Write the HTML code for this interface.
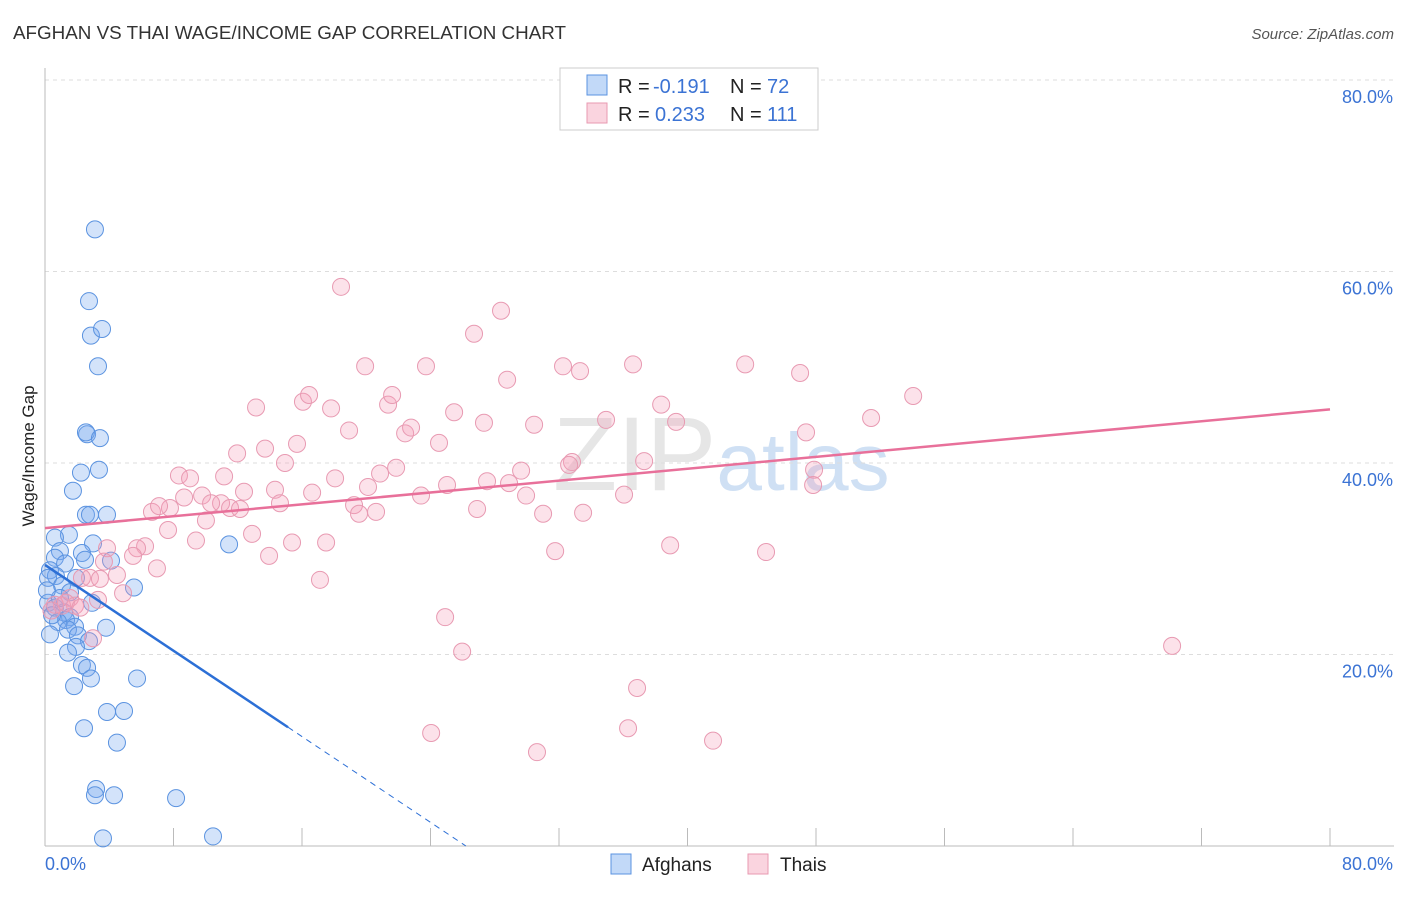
<!DOCTYPE html>
<html><head><meta charset="utf-8"><style>
body{margin:0;background:#fff;font-family:"Liberation Sans",sans-serif;}
svg text{font-family:"Liberation Sans",sans-serif;}
</style></head><body>
<svg id="chart" width="1406" height="892" viewBox="0 0 1406 892" xmlns="http://www.w3.org/2000/svg">
<text x="13" y="39" font-size="18" fill="#333" textLength="553" lengthAdjust="spacingAndGlyphs">AFGHAN VS THAI WAGE/INCOME GAP CORRELATION CHART</text>
<text x="1394" y="39" font-size="15" fill="#555" text-anchor="end" font-style="italic">Source: ZipAtlas.com</text>
<text x="553" y="490" font-size="105" fill="#e6e6e6" font-family="Liberation Serif">ZIP<tspan fill="#cfe0f4" font-family="Liberation Sans" font-size="82">atlas</tspan></text>
<g id="grid"></g>
<line x1="45" y1="68" x2="45" y2="846" stroke="#bbb"/>
<line x1="45" y1="846" x2="1394" y2="846" stroke="#bbb"/>
<text transform="translate(34,456) rotate(-90)" font-size="17" fill="#222" text-anchor="middle">Wage/Income Gap</text>
<text x="45" y="870" font-size="18" fill="#3b73d4">0.0%</text>
<text x="1393" y="870" font-size="18" fill="#3b73d4" text-anchor="end">80.0%</text>
<g id="points"></g>
<g id="lines"></g>
<g>
<rect x="560" y="68" width="258" height="62" fill="#fff" stroke="#ccc"/>
<rect x="587" y="75" width="20" height="20" fill="rgba(120,170,240,0.45)" stroke="#5b93e0"/>
<text x="618" y="93" font-size="20" fill="#222">R =</text>
<text x="653" y="93" font-size="20" fill="#3b73d4">-0.191</text>
<text x="730" y="93" font-size="20" fill="#222">N =</text>
<text x="767" y="93" font-size="20" fill="#3b73d4">72</text>
<rect x="587" y="103" width="20" height="20" fill="rgba(245,160,185,0.45)" stroke="#e89ab2"/>
<text x="618" y="121" font-size="20" fill="#222">R =</text>
<text x="655" y="121" font-size="20" fill="#3b73d4">0.233</text>
<text x="730" y="121" font-size="20" fill="#222">N =</text>
<text x="767" y="121" font-size="20" fill="#3b73d4">111</text>
</g>
<g>
<rect x="611" y="854" width="20" height="20" fill="rgba(120,170,240,0.45)" stroke="#5b93e0"/>
<text x="642" y="871" font-size="19" fill="#222">Afghans</text>
<rect x="748" y="854" width="20" height="20" fill="rgba(245,160,185,0.45)" stroke="#e89ab2"/>
<text x="780" y="871" font-size="19" fill="#222">Thais</text>
</g>
</svg>
<script>
const yTicks=[20,40,60,80];
const yTickLabels=["20.0%","40.0%","60.0%","80.0%"];
const xTicks=[0,8,16,24,32,40,48,56,64,72,80];
const afghanX=[3.11,2.74,2.86,3.55,3.30,2.62,2.55,3.42,2.24,3.36,1.74,2.55,2.80,3.86,1.49,0.62,2.99,11.46,0.93,2.30,4.11,0.62,1.25,0.31,0.68,1.93,0.19,1.06,1.56,5.54,2.93,0.19,0.62,1.18,1.56,1.31,0.81,1.87,1.43,3.80,2.05,0.31,2.74,1.93,1.43,2.30,2.62,2.86,1.81,5.73,3.86,4.92,2.43,4.48,3.18,3.11,4.30,8.16,3.61,10.46,0.44,0.93,2.49,0.12];
const afghanY=[64.4,56.9,53.3,54.0,50.1,43.0,43.2,42.6,39.0,39.3,37.1,34.6,34.6,34.6,32.5,32.2,31.6,31.5,30.8,30.6,29.8,30.1,29.5,28.8,28.2,28.0,28.0,27.2,26.5,27.0,25.4,25.4,24.9,24.4,23.9,23.6,23.4,22.9,22.6,22.8,22.0,22.1,21.4,20.8,20.2,18.9,18.6,17.5,16.7,17.5,14.0,14.1,12.3,10.8,5.95,5.3,5.3,5.0,0.8,1.0,24.1,25.9,29.9,26.7];
const thaiX=[18.43,28.39,26.71,19.93,23.72,32.25,33.31,36.61,43.59,47.01,28.77,54.05,13.14,16.06,16.44,17.81,21.36,21.61,25.47,38.36,34.93,39.29,51.43,30.45,27.33,18.93,22.42,22.79,24.53,47.38,15.69,11.96,13.70,14.94,32.81,32.63,37.30,47.88,8.34,9.03,11.15,18.06,20.86,21.86,27.52,29.64,25.03,47.82,14.32,12.39,9.78,8.66,16.63,20.11,23.41,28.89,29.95,36.05,10.96,10.34,7.78,6.66,7.10,11.52,12.14,14.63,19.24,20.61,19.55,26.90,31.01,33.50,10.02,7.66,12.89,6.23,5.73,9.40,15.38,17.50,31.76,38.92,44.89,13.95,3.86,5.48,3.67,6.97,4.48,2.80,3.42,2.30,4.86,17.12,1.56,3.30,1.06,24.91,2.99,25.97,70.17,36.86,24.04,36.30,41.59,30.63,0.62,1.87,0.4,1.3,2.2];
const thaiY=[58.4,55.9,53.5,50.1,50.1,50.1,49.6,50.3,50.3,49.4,48.7,47.0,45.8,46.4,47.1,45.7,46.1,47.1,45.3,46.1,44.5,44.3,44.7,44.0,44.2,43.4,43.1,43.7,42.1,43.2,42.0,41.0,41.5,40.0,40.1,39.8,40.2,39.3,38.7,38.4,38.6,38.4,38.9,39.5,38.1,39.2,37.7,37.7,37.2,37.0,36.6,36.4,36.9,37.5,36.6,37.9,36.6,36.7,35.8,35.8,35.3,34.9,35.5,35.3,35.2,35.8,35.6,34.9,34.7,35.2,34.7,34.8,34.0,33.0,32.6,31.3,31.1,31.9,31.7,31.7,30.8,31.4,30.7,30.3,31.1,30.3,29.7,29.0,28.3,28.0,27.9,28.0,26.4,27.8,25.9,25.7,25.1,23.9,21.7,20.3,20.9,16.5,11.8,12.3,11.0,9.8,25.2,25.1,24.6,25.4,24.9];
const thaiTrend=[33.2,45.6];
const afghanTrend=[29.35,-1.12];
const afghanSolidEnd=15.13;

const NS="http://www.w3.org/2000/svg";
const sx=v=>45+v*(1285/80);
const sy=v=>846-v*(191.5/20);
function mk(tag,attrs,parent){const e=document.createElementNS(NS,tag);for(const k in attrs)e.setAttribute(k,attrs[k]);parent.appendChild(e);return e;}
const grid=document.getElementById('grid');
yTicks.forEach((t,i)=>{
  const l=mk('line',{x1:45,x2:1394,y1:sy(t),y2:sy(t),stroke:'#ddd','stroke-dasharray':'4,4'},grid);
  
  
  const tx=mk('text',{x:1393,y:sy(t)+23,'font-size':18,fill:'#3b73d4','text-anchor':'end'},grid);
  tx.textContent=yTickLabels[i];
  
  
});
xTicks.forEach(t=>{
  const l=mk('line',{x1:sx(t),x2:sx(t),y1:828,y2:846,stroke:'#bbb'},grid);
  
  
});
const pts=document.getElementById('points');
afghanX.forEach((x,i)=>{
  const c=mk('circle',{cx:sx(x),cy:sy(afghanY[i]),r:8.5,fill:'rgba(120,170,240,0.33)',stroke:'#5b93e0','stroke-width':1},pts);
  
  
});
thaiX.forEach((x,i)=>{
  const c=mk('circle',{cx:sx(x),cy:sy(thaiY[i]),r:8.5,fill:'rgba(245,160,185,0.3)',stroke:'#e89ab2','stroke-width':1},pts);
  
  
});
const lines=document.getElementById('lines');
const tl=mk('line',{x1:sx(0),y1:sy(thaiTrend[0]),x2:sx(80),y2:sy(thaiTrend[1]),stroke:'#e8709a','stroke-width':2.5},lines);


const af=x=>afghanTrend[0]+afghanTrend[1]*x;
const al=mk('line',{x1:sx(0),y1:sy(af(0)),x2:sx(afghanSolidEnd),y2:sy(af(afghanSolidEnd)),stroke:'#2c6fd6','stroke-width':2.5},lines);


const zx=-afghanTrend[0]/afghanTrend[1];
const ad=mk('line',{x1:sx(afghanSolidEnd),y1:sy(af(afghanSolidEnd)),x2:sx(zx),y2:sy(0),stroke:'#2c6fd6','stroke-width':1,'stroke-dasharray':'6,5'},lines);


</script>
</body></html>
